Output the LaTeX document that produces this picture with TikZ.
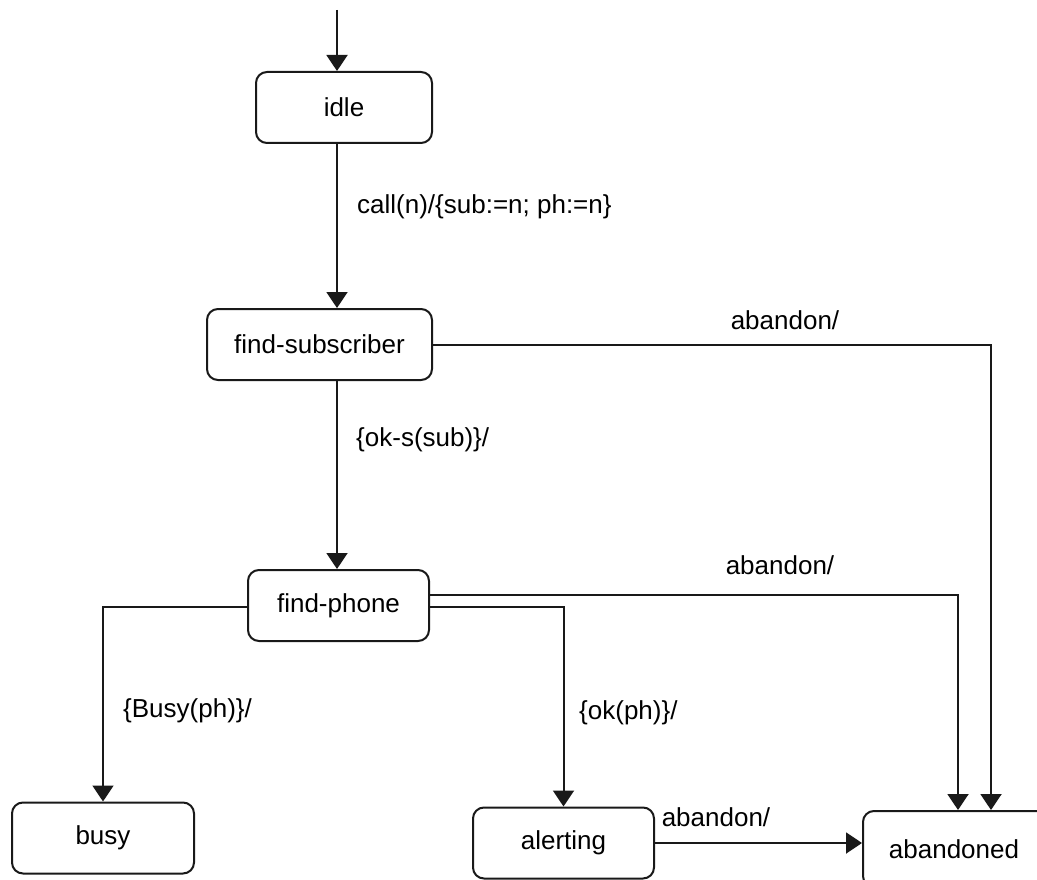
\documentclass[tikz,border=0pt]{standalone}
\usepackage{fontspec}
\setmainfont{Liberation Sans}
\usetikzlibrary{arrows.meta}
\begin{document}
\begin{tikzpicture}[x=1pt,y=-1pt,
  txt/.style={font=\fontsize{26}{30}\selectfont},
  state/.style={txt, draw=black!90, line width=2pt, rounded corners=11pt,
    minimum height=71pt, inner sep=0pt},
  lbl/.style={txt, inner sep=0pt},
  arr/.style={draw=black!90, line width=2pt, -{Triangle[width=21pt,length=16pt]}}]
\useasboundingbox (0,0) rectangle (1037,880);
\clip (0,0) rectangle (1037,880);

% states
\node[state, minimum width=176pt] (idle)      at (344,107.5) {idle};
\node[state, minimum width=225pt] (findsub)   at (319.5,344.5) {find-subscriber};
\node[state, minimum width=181pt] (findphone) at (338.5,605.5) {find-phone};
\node[state, minimum width=182pt] (busy)      at (103,838) {busy};
\node[state, minimum width=181pt] (alerting)  at (563.5,843) {alerting};
\node[state, minimum width=192pt, minimum height=76pt] (abandoned) at (959,849) {\hspace*{-10pt}abandoned};

% guide coordinates for the vertical runs
\coordinate (spine) at (337,0);
\coordinate (init)  at (337,10);
\coordinate (dropA) at (958,0);
\coordinate (dropB) at (991,0);

% transitions
\draw[arr] (init) -- (spine |- idle.north);
\draw[arr] (spine |- idle.south) -- (spine |- findsub.north);
\draw[arr] (spine |- findsub.south) -- (spine |- findphone.north);
\draw[arr] (findsub.east) -| (dropB |- abandoned.north);
\draw[arr] ([yshift=10.5pt]findphone.east) -| (dropA |- abandoned.north);
\draw[arr] ([yshift=-1.5pt]findphone.east) -| (alerting.north);
\draw[arr] ([yshift=-1.5pt]findphone.west) -| (busy.north);
\draw[arr] (alerting.east) -- (alerting.east -| abandoned.west);

% transition labels
\node[lbl, anchor=west] (l1) at (357,207) {call(n)/\{sub:=n; ph:=n\}};
\node[lbl] (l2) at (785,320) {abandon/};
\node[lbl, anchor=west] (l3) at (356,440) {\{ok-s(sub)\}/};
\node[lbl] (l4) at (780,565) {abandon/};
\node[lbl, anchor=west] (l5) at (123,711) {\{Busy(ph)\}/};
\node[lbl, anchor=west] (l6) at (579,713) {\{ok(ph)\}/};
\node[lbl] (l7) at (716,817) {abandon/};
\end{tikzpicture}
\end{document}
